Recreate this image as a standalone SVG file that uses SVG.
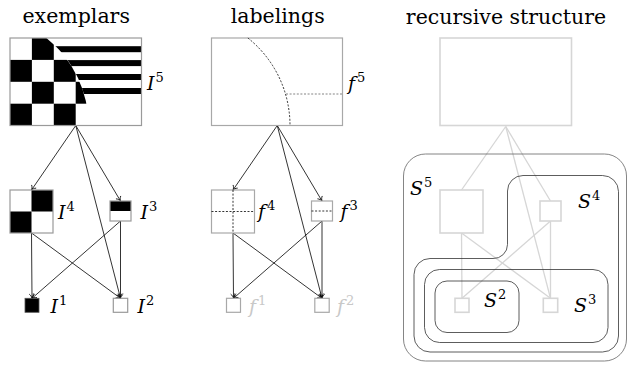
<svg xmlns="http://www.w3.org/2000/svg" width="630" height="365" viewBox="0 0 630 365">
<defs>
<style>
text{font-family:'DejaVu Serif',serif}
.title{font-size:20.5px;fill:#000}
.math{font-size:19px;font-style:italic;fill:#000}
.sup{font-style:normal;font-size:13px}
.lgray{fill:#c8c8c8}
.img{fill:none;stroke:#9a9a9a;stroke-width:1.2}
.lbox{fill:#fff;stroke:#a8a8a8;stroke-width:1.2}
.rbox{fill:#fff;stroke:#d6d6d6;stroke-width:1.6}
.arr{stroke:#000;stroke-width:0.8;fill:none;marker-end:url(#ah)}
.redge{stroke:#d6d6d6;stroke-width:1.3;fill:none}
.dash{stroke:#000;stroke-width:0.8;fill:none;stroke-dasharray:2 1.6}
.dashg{stroke:#777;stroke-width:0.9;fill:none;stroke-dasharray:2 1.6}
.region{fill:none;stroke:#333;stroke-width:0.8}
</style>
<marker id="ah" viewBox="-6 -5 8 10" markerWidth="8" markerHeight="10" refX="0" refY="0" markerUnits="userSpaceOnUse" orient="auto">
<path d="M-4.2,-2.8 C-3,-1.1 -1.3,-0.3 0,0 C-1.3,0.3 -3,1.1 -4.2,2.8" fill="none" stroke="#000" stroke-width="0.8"/>
</marker>
<clipPath id="regA"><path d="M10,38 H46.4 A112 112 0 0 1 88.5,125.5 H10 Z"/></clipPath>
<clipPath id="regB"><path d="M46.4,38 A112 112 0 0 1 83.98,94 H141.5 V38 Z"/></clipPath>
</defs>

<!-- titles -->
<text class="title" x="76.2" y="23.3" text-anchor="middle">exemplars</text>
<text class="title" x="277.7" y="23.3" text-anchor="middle">labelings</text>
<text class="title" x="506" y="24" text-anchor="middle">recursive structure</text>

<!-- connectors -->
<g id="connectors">
<g id="exemplar-arrows">
<line class="arr" x1="75.75" y1="125.5" x2="31.5" y2="190"/>
<line class="arr" x1="75.75" y1="125.5" x2="120.5" y2="201"/>
<line class="arr" x1="75.75" y1="125.5" x2="120.5" y2="298.3"/>
<line class="arr" x1="31.5" y1="233" x2="32" y2="298.3"/>
<line class="arr" x1="31.5" y1="233" x2="120.5" y2="298.3"/>
<line class="arr" x1="120.5" y1="221" x2="32" y2="298.3"/>
<line class="arr" x1="120.5" y1="221" x2="120.5" y2="298.3"/>
</g>
<g id="labeling-arrows">
<line class="arr" x1="277.25" y1="125.5" x2="233" y2="190"/>
<line class="arr" x1="277.25" y1="125.5" x2="322" y2="201"/>
<line class="arr" x1="277.25" y1="125.5" x2="322" y2="298.3"/>
<line class="arr" x1="233" y1="233" x2="233.5" y2="298.3"/>
<line class="arr" x1="233" y1="233" x2="322" y2="298.3"/>
<line class="arr" x1="322" y1="221" x2="233.5" y2="298.3"/>
<line class="arr" x1="322" y1="221" x2="322" y2="298.3"/>
</g>
<g id="recursive-edges">
<line class="redge" x1="505.75" y1="126.5" x2="461.5" y2="190"/>
<line class="redge" x1="505.75" y1="126.5" x2="550.5" y2="201"/>
<line class="redge" x1="505.75" y1="126.5" x2="550.5" y2="298.3"/>
<line class="redge" x1="461.5" y1="233" x2="462" y2="298.3"/>
<line class="redge" x1="461.5" y1="233" x2="550.5" y2="298.3"/>
<line class="redge" x1="550.5" y1="221" x2="462" y2="298.3"/>
<line class="redge" x1="550.5" y1="221" x2="550.5" y2="298.3"/>
</g>
</g>

<!-- exemplars -->
<g id="I5">
<rect x="10" y="38" width="131.5" height="87.5" fill="#fff"/>
<g clip-path="url(#regA)" fill="#000">
<rect x="31.9" y="38" width="21.9" height="21.9"/>
<rect x="75.7" y="38" width="21.9" height="21.9"/>
<rect x="10" y="59.9" width="21.9" height="21.9"/>
<rect x="53.8" y="59.9" width="21.9" height="21.9"/>
<rect x="31.9" y="81.8" width="21.9" height="21.9"/>
<rect x="75.7" y="81.8" width="21.9" height="21.9"/>
<rect x="10" y="103.7" width="21.9" height="21.8"/>
<rect x="53.8" y="103.7" width="21.9" height="21.8"/>
</g>
<g clip-path="url(#regB)" fill="#000">
<rect x="40" y="46.2" width="102" height="6"/>
<rect x="40" y="60.1" width="102" height="6"/>
<rect x="40" y="74" width="102" height="6"/>
<rect x="40" y="88" width="102" height="6"/>
</g>
<rect class="img" x="10" y="38" width="131.5" height="87.5"/>
<text class="math" x="147" y="90">I<tspan class="sup" dy="-8" dx="1">5</tspan></text>
</g>
<g id="I4">
<rect x="10" y="190" width="43" height="43" fill="#fff"/>
<rect x="31.5" y="190" width="21.5" height="21.5" fill="#000"/>
<rect x="10" y="211.5" width="21.5" height="21.5" fill="#000"/>
<rect class="img" x="10" y="190" width="43" height="43"/>
<text class="math" x="58" y="219">I<tspan class="sup" dy="-8" dx="1">4</tspan></text>
</g>
<g id="I3">
<rect x="110" y="201" width="21" height="20" fill="#fff"/>
<rect x="110" y="201" width="21" height="10" fill="#000"/>
<rect class="img" x="110" y="201" width="21" height="20"/>
<text class="math" x="140.5" y="219">I<tspan class="sup" dy="-8" dx="1">3</tspan></text>
</g>
<g id="I1">
<rect x="25" y="298.3" width="14" height="14" fill="#000" stroke="#555" stroke-width="0.8"/>
<text class="math" x="50.5" y="313">I<tspan class="sup" dy="-8" dx="1">1</tspan></text>
</g>
<g id="I2">
<rect class="img" x="113.3" y="298.3" width="14.4" height="14" fill="#fff"/>
<text class="math" x="137.5" y="313">I<tspan class="sup" dy="-8" dx="1">2</tspan></text>
</g>

<!-- labelings -->
<g id="f5">
<rect class="lbox" x="211.5" y="38" width="131" height="87.5"/>
<path class="dash" d="M247.9,38 A112 112 0 0 1 290,125.5"/>
<line class="dashg" x1="286" y1="94" x2="342.5" y2="94"/>
<text class="math" x="348" y="90">f<tspan class="sup" dy="-8" dx="2">5</tspan></text>
</g>
<g id="f4">
<rect class="lbox" x="211.5" y="190" width="43" height="43"/>
<line class="dash" x1="233" y1="190" x2="233" y2="233"/>
<line class="dash" x1="211.5" y1="211.5" x2="254.5" y2="211.5"/>
<text class="math" x="258" y="218">f<tspan class="sup" dy="-8" dx="2">4</tspan></text>
</g>
<g id="f3">
<rect class="lbox" x="311.5" y="201" width="21" height="20"/>
<line class="dash" x1="311.5" y1="211" x2="332.5" y2="211"/>
<text class="math" x="340.5" y="218">f<tspan class="sup" dy="-8" dx="2">3</tspan></text>
</g>
<g id="f1">
<rect class="lbox" x="226.5" y="298.3" width="14" height="14"/>
<text class="math lgray" x="249" y="313">f<tspan class="sup" dy="-8" dx="2">1</tspan></text>
</g>
<g id="f2">
<rect class="lbox" x="314.8" y="298.3" width="14.4" height="14"/>
<text class="math lgray" x="337" y="313">f<tspan class="sup" dy="-8" dx="2">2</tspan></text>
</g>

<!-- recursive structure -->
<g id="S5-region">
<rect x="403.5" y="154" width="223" height="207" rx="22" fill="none" stroke="#666" stroke-width="0.8"/>
<text class="math" x="410" y="195">S<tspan class="sup" dy="-8" dx="1">5</tspan></text>
</g>
<g id="S4-region">
<path class="region" d="M430,258.5 H493 A14 14 0 0 0 507.5,244.5 V191 A15.5 15.5 0 0 1 523,175.5 H602.5 A16 16 0 0 1 618.5,191.5 V336 A16 16 0 0 1 602.5,352 H430 A16 16 0 0 1 414,336 V274.5 A16 16 0 0 1 430,258.5 Z"/>
<text class="math" x="578" y="208">S<tspan class="sup" dy="-8" dx="1">4</tspan></text>
</g>
<g id="S3-region">
<rect class="region" x="424.5" y="269.5" width="183.5" height="73" rx="15"/>
<text class="math" x="574" y="311.5">S<tspan class="sup" dy="-8" dx="1">3</tspan></text>
</g>
<g id="S2-region">
<rect class="region" x="435" y="281" width="84" height="51.5" rx="12"/>
<text class="math" x="484" y="306.5">S<tspan class="sup" dy="-8" dx="1">2</tspan></text>
</g>
<g id="R5"><rect class="rbox" x="440" y="38" width="131.5" height="87.5"/></g>
<g id="R4"><rect class="rbox" x="440" y="190" width="43" height="43"/></g>
<g id="R3"><rect class="rbox" x="540" y="201" width="21" height="20"/></g>
<g id="R1"><rect class="rbox" x="455" y="298.3" width="14" height="14"/></g>
<g id="R2"><rect class="rbox" x="543.3" y="298.3" width="14.4" height="14"/></g>
</svg>
